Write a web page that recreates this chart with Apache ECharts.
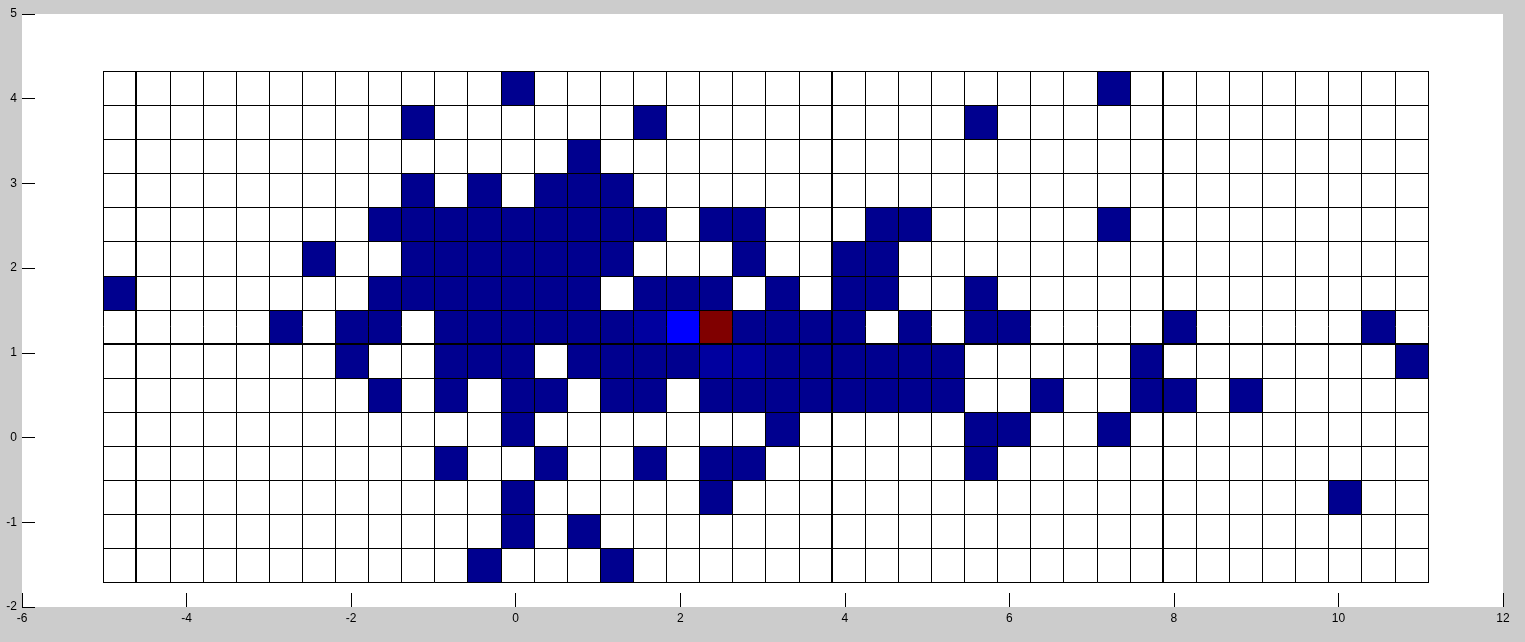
<!DOCTYPE html>
<html>
<head>
<meta charset="utf-8">
<style>
  html, body { margin: 0; padding: 0; background: #cccccc; }
  #chart { width: 1525px; height: 642px; }
</style>
<script src="https://cdn.jsdelivr.net/npm/echarts@6/dist/echarts.min.js"></script>
</head>
<body>
<div id="chart"></div>
<script>
// ---- Data ----
// Bin layout of the 2-D histogram (lower-left edge and bin width, data units)
const xStart = -5.012;
const yStart = -1.709;
const binWidth = 0.4024;
const nCols = 40;
const nRows = 15;

// Axis ticks
const xTicks = [-6, -4, -2, 0, 2, 4, 6, 8, 10, 12];
const yTicks = [-2, -1, 0, 1, 2, 3, 4, 5];

// Counts per cell, rows listed from TOP (highest y) to BOTTOM, 40 columns left to right
const row00 = [0,0,0,0,0,0,0,0,0,0, 0,0,1,0,0,0,0,0,0,0, 0,0,0,0,0,0,0,0,0,0, 1,0,0,0,0,0,0,0,0,0];
const row01 = [0,0,0,0,0,0,0,0,0,1, 0,0,0,0,0,0,1,0,0,0, 0,0,0,0,0,0,1,0,0,0, 0,0,0,0,0,0,0,0,0,0];
const row02 = [0,0,0,0,0,0,0,0,0,0, 0,0,0,0,1,0,0,0,0,0, 0,0,0,0,0,0,0,0,0,0, 0,0,0,0,0,0,0,0,0,0];
const row03 = [0,0,0,0,0,0,0,0,0,1, 0,1,0,1,1,1,0,0,0,0, 0,0,0,0,0,0,0,0,0,0, 0,0,0,0,0,0,0,0,0,0];
const row04 = [0,0,0,0,0,0,0,0,1,1, 1,1,1,1,1,1,1,0,1,1, 0,0,0,1,1,0,0,0,0,0, 1,0,0,0,0,0,0,0,0,0];
const row05 = [0,0,0,0,0,0,1,0,0,1, 1,1,1,1,1,1,0,0,0,1, 0,0,1,1,0,0,0,0,0,0, 0,0,0,0,0,0,0,0,0,0];
const row06 = [1,0,0,0,0,0,0,0,1,1, 1,1,1,1,1,0,1,1,1,0, 1,0,1,1,0,0,1,0,0,0, 0,0,0,0,0,0,0,0,0,0];
const row07 = [0,0,0,0,0,1,0,1,1,0, 1,1,1,1,1,1,2,8,64,1, 1,1,1,0,1,0,1,1,0,0, 0,0,1,0,0,0,0,0,1,0];
const row08 = [0,0,0,0,0,0,0,1,0,0, 1,1,1,0,1,1,1,1,2,2, 1,1,1,1,1,1,0,0,0,0, 0,1,0,0,0,0,0,0,0,1];
const row09 = [0,0,0,0,0,0,0,0,1,0, 1,0,1,1,0,1,1,0,1,1, 1,1,1,1,1,1,0,0,1,0, 0,1,1,0,1,0,0,0,0,0];
const row10 = [0,0,0,0,0,0,0,0,0,0, 0,0,1,0,0,0,0,0,0,0, 1,0,0,0,0,0,1,1,0,0, 1,0,0,0,0,0,0,0,0,0];
const row11 = [0,0,0,0,0,0,0,0,0,0, 1,0,0,1,0,0,1,0,1,1, 0,0,0,0,0,0,1,0,0,0, 0,0,0,0,0,0,0,0,0,0];
const row12 = [0,0,0,0,0,0,0,0,0,0, 0,0,1,0,0,0,0,0,1,0, 0,0,0,0,0,0,0,0,0,0, 0,0,0,0,0,0,0,1,0,0];
const row13 = [0,0,0,0,0,0,0,0,0,0, 0,0,1,0,1,0,0,0,0,0, 0,0,0,0,0,0,0,0,0,0, 0,0,0,0,0,0,0,0,0,0];
const row14 = [0,0,0,0,0,0,0,0,0,0, 0,1,0,0,0,1,0,0,0,0, 0,0,0,0,0,0,0,0,0,0, 0,0,0,0,0,0,0,0,0,0];
const countRowsTopDown = [row00,row01,row02,row03,row04,row05,row06,row07,row08,row09,row10,row11,row12,row13,row14];

// Heavier-drawn bin edges seen in the picture (edge indices)
const heavyColEdges = [1, 22, 32];
const heavyRowEdges = [7];   // counted from the bottom

// ---- Build ----
function jet64() {
  const out = [];
  const h = v => Math.round(Math.max(0, Math.min(1, v)) * 255).toString(16).padStart(2, '0');
  for (let k = 1; k <= 64; k++) {
    let r, g, b;
    if (k <= 8) { r = 0; g = 0; b = (8 + k) / 16; }
    else if (k <= 24) { r = 0; g = (k - 8) / 16; b = 1; }
    else if (k <= 40) { r = (k - 24) / 16; g = 1; b = 1 - (k - 24) / 16; }
    else if (k <= 56) { r = 1; g = 1 - (k - 40) / 16; b = 0; }
    else { r = 1 - (k - 56) / 16; g = 0; b = 0; }
    out.push('#' + h(r) + h(g) + h(b));
  }
  return out;
}

const cells = [];
for (let r = 0; r < nRows; r++) {
  const rowFromBottom = nRows - 1 - r;
  const row = countRowsTopDown[r];
  for (let c = 0; c < nCols; c++) {
    cells.push([xStart + c * binWidth, yStart + rowFromBottom * binWidth, row[c]]);
  }
}
// grid edges: [direction (0 = vertical, 1 = horizontal), position, heavy]
const edges = [];
for (let c = 0; c <= nCols; c++) edges.push([0, xStart + c * binWidth, heavyColEdges.includes(c) ? 1 : 0]);
for (let r = 0; r <= nRows; r++) edges.push([1, yStart + r * binWidth, heavyRowEdges.includes(r) ? 1 : 0]);

const chart = echarts.init(document.getElementById('chart'), null, { renderer: 'canvas' });
const font = "'Liberation Sans', Arial, sans-serif";

chart.setOption({
  backgroundColor: '#cccccc',
  animation: false,
  grid: { left: 22, right: 22, top: 14, bottom: 35, show: true, backgroundColor: '#ffffff', borderWidth: 0 },
  xAxis: {
    type: 'value', min: xTicks[0], max: xTicks[xTicks.length - 1], interval: 2,
    axisLine: { show: false, onZero: false },
    axisTick: { show: true, inside: true, length: 14, lineStyle: { color: '#000', width: 1 } },
    axisLabel: { color: '#000', fontSize: 12, fontFamily: font, margin: 6 },
    splitLine: { show: false }
  },
  yAxis: {
    type: 'value', min: yTicks[0], max: yTicks[yTicks.length - 1], interval: 1,
    axisLine: { show: false, onZero: false },
    axisTick: { show: true, inside: true, length: 13, lineStyle: { color: '#000', width: 1 } },
    axisLabel: { color: '#000', fontSize: 12, fontFamily: font, margin: 5 },
    splitLine: { show: false }
  },
  visualMap: {
    show: false, type: 'continuous', min: 1, max: 64, dimension: 2, seriesIndex: 0,
    inRange: { color: jet64() }
  },
  series: [
    {
      type: 'custom',
      coordinateSystem: 'cartesian2d',
      encode: { x: 0, y: 1 },
      data: cells,
      renderItem: function (params, api) {
        const x0 = api.value(0), y0 = api.value(1), v = api.value(2);
        const pTL = api.coord([x0, y0 + binWidth]);
        const pBR = api.coord([x0 + binWidth, y0]);
        const L = Math.round(pTL[0]), T = Math.round(pTL[1]);
        const R = Math.round(pBR[0]), B = Math.round(pBR[1]);
        return {
          type: 'rect',
          shape: { x: L, y: T, width: R - L, height: B - T },
          style: { fill: v > 0 ? api.visual('color') : '#ffffff', stroke: null }
        };
      },
      z: 2
    },
    {
      type: 'custom',
      coordinateSystem: 'cartesian2d',
      data: edges,
      encode: { x: 1 },
      renderItem: function (params, api) {
        const dir = api.value(0), pos = api.value(1), heavy = api.value(2);
        const w = heavy ? 2 : 1;
        const off = heavy ? 0 : 0.5;
        if (dir === 0) {
          const a = api.coord([pos, yStart]);
          const b = api.coord([pos, yStart + nRows * binWidth]);
          const x = Math.round(a[0]) + off;
          return { type: 'line', shape: { x1: x, y1: Math.round(a[1]) + 0.5, x2: x, y2: Math.round(b[1]) }, style: { stroke: '#000', lineWidth: w } };
        } else {
          const a = api.coord([xStart, pos]);
          const b = api.coord([xStart + nCols * binWidth, pos]);
          const y = Math.round(a[1]) + off;
          return { type: 'line', shape: { x1: Math.round(a[0]), y1: y, x2: Math.round(b[0]) + 1, y2: y }, style: { stroke: '#000', lineWidth: w } };
        }
      },
      z: 3
    }
  ]
});
</script>
</body>
</html>
